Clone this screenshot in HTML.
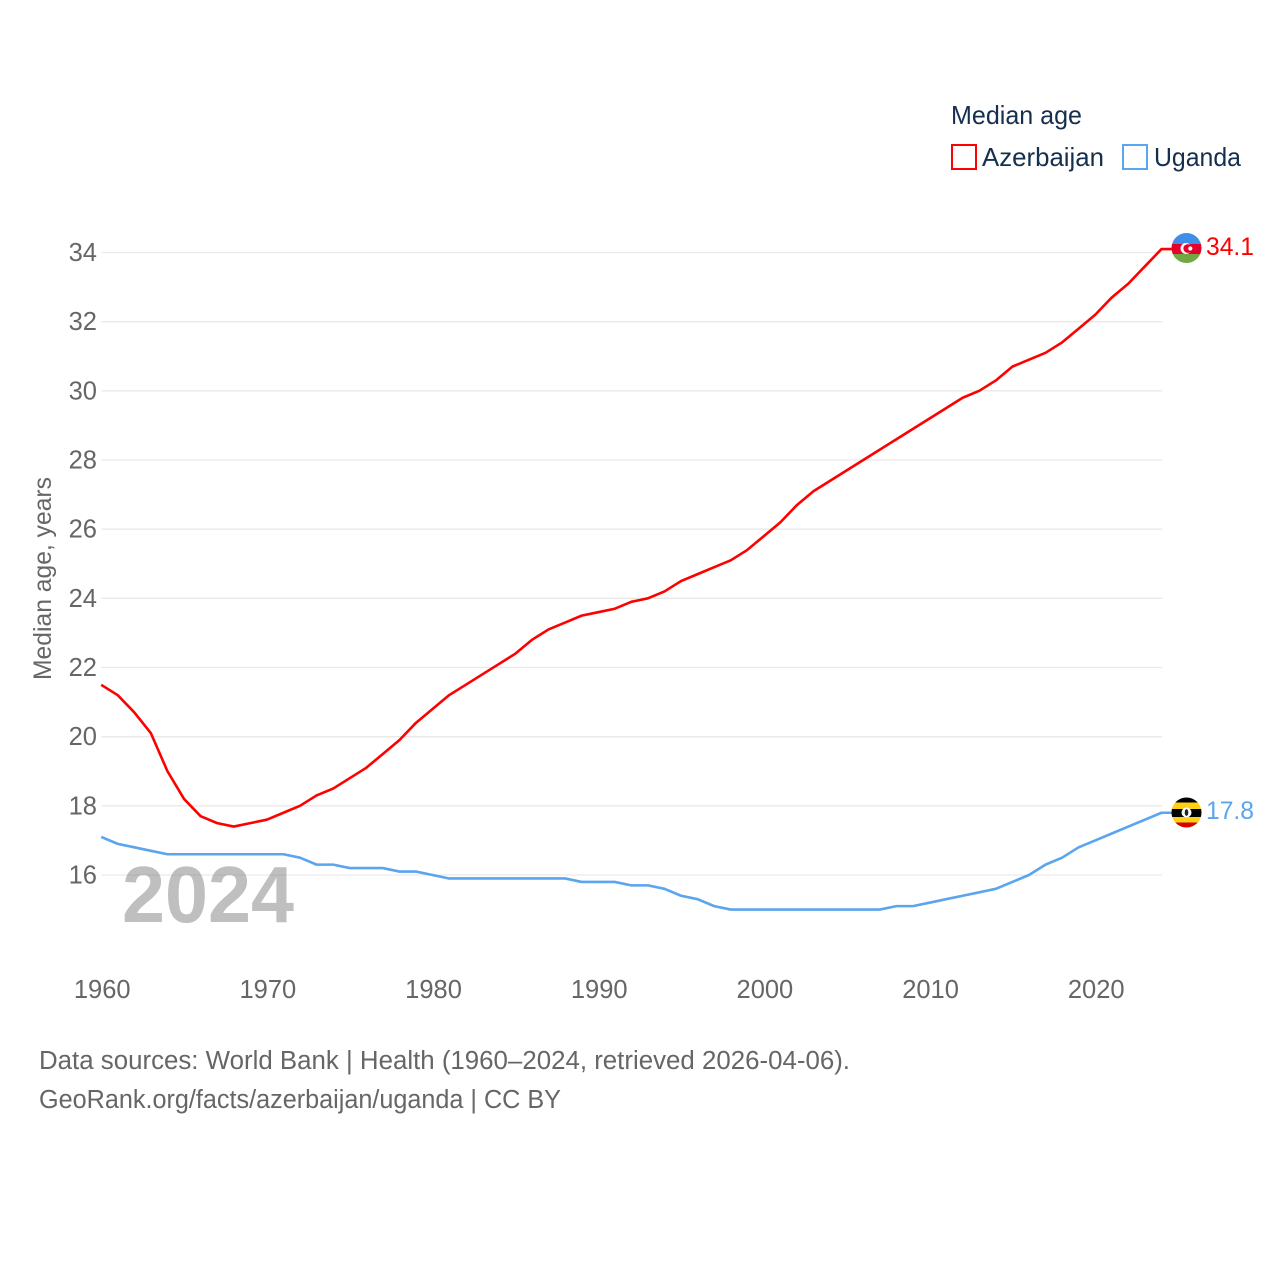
<!DOCTYPE html>
<html lang="en">
<head>
<meta charset="utf-8">
<title>Median age: Azerbaijan and Uganda</title>
<style>
html,body{margin:0;padding:0;background:#fff;width:1280px;height:1280px;overflow:hidden}
svg{display:block}
text{font-family:"Liberation Sans",sans-serif}
</style>
</head>
<body>
<svg id="chart" xmlns="http://www.w3.org/2000/svg" width="1280" height="1280" viewBox="0 0 1280 1280">
  <defs>
    <clipPath id="clip-az"><circle cx="1186.5" cy="248" r="15"/></clipPath>
    <clipPath id="clip-ug"><circle cx="1186.5" cy="812.5" r="15"/></clipPath>
  </defs>
  <g id="grid"></g>
  <g id="yticks"></g>
  <g id="xticks"></g>
  <text transform="translate(51,680) rotate(-90)" font-size="25" fill="#666" textLength="203" lengthAdjust="spacingAndGlyphs">Median age, years</text>
  <text x="122" y="922" font-size="80" font-weight="700" fill="#808080" fill-opacity="0.5" textLength="172" lengthAdjust="spacingAndGlyphs">2024</text>
  <g id="lines"></g>

  <g clip-path="url(#clip-az)">
    <rect x="1171" y="233" width="31" height="11" fill="#3f8ee8"/>
    <rect x="1171" y="244" width="31" height="10" fill="#e4002b"/>
    <rect x="1171" y="254" width="31" height="10" fill="#71a744"/>
    <circle cx="1186" cy="248.5" r="5.5" fill="#fff"/>
    <circle cx="1187.8" cy="248.5" r="4.4" fill="#e4002b"/>
    <circle cx="1190.3" cy="248.5" r="2.1" fill="#fff"/>
  </g>
  <text x="1206" y="255" font-size="25" fill="#ff0000" textLength="48" lengthAdjust="spacingAndGlyphs">34.1</text>

  <g clip-path="url(#clip-ug)">
    <rect x="1171" y="797" width="31" height="5.5" fill="#000"/>
    <rect x="1171" y="802.5" width="31" height="6.5" fill="#fcd116"/>
    <rect x="1171" y="809" width="31" height="8" fill="#000"/>
    <rect x="1171" y="817" width="31" height="5.5" fill="#fcd116"/>
    <rect x="1171" y="822.5" width="31" height="6" fill="#d90000"/>
    <circle cx="1186.5" cy="812.5" r="5" fill="#fff"/>
    <ellipse cx="1186.5" cy="812.5" rx="1.8" ry="3.4" fill="#222"/>
  </g>
  <text x="1206" y="819" font-size="25" fill="#5ba4ee" textLength="48" lengthAdjust="spacingAndGlyphs">17.8</text>

  <g>
    <text x="951" y="124" font-size="26" fill="#152f4e" textLength="131" lengthAdjust="spacingAndGlyphs">Median age</text>
    <rect x="952" y="145" width="24" height="24" fill="#fff" stroke="#ff0000" stroke-width="2"/>
    <text x="982" y="166" font-size="26" fill="#152f4e" textLength="122" lengthAdjust="spacingAndGlyphs">Azerbaijan</text>
    <rect x="1123" y="145" width="24" height="24" fill="#fff" stroke="#5ba4ee" stroke-width="2"/>
    <text x="1154" y="166" font-size="26" fill="#152f4e" textLength="87" lengthAdjust="spacingAndGlyphs">Uganda</text>
  </g>

  <text x="39" y="1069" font-size="25.5" fill="#666" textLength="811" lengthAdjust="spacingAndGlyphs">Data sources: World Bank | Health (1960–2024, retrieved 2026-04-06).</text>
  <a><text x="39" y="1108" font-size="25.5" fill="#666" textLength="522" lengthAdjust="spacingAndGlyphs">GeoRank.org/facts/azerbaijan/uganda | CC BY</text></a>
</svg>
<script>
var yearStart = 1960;
var azerbaijan = [21.5,21.2,20.7,20.1,19.0,18.2,17.7,17.5,17.4,17.5,17.6,17.8,18.0,18.3,18.5,18.8,19.1,19.5,19.9,20.4,20.8,21.2,21.5,21.8,22.1,22.4,22.8,23.1,23.3,23.5,23.6,23.7,23.9,24.0,24.2,24.5,24.7,24.9,25.1,25.4,25.8,26.2,26.7,27.1,27.4,27.7,28.0,28.3,28.6,28.9,29.2,29.5,29.8,30.0,30.3,30.7,30.9,31.1,31.4,31.8,32.2,32.7,33.1,33.6,34.1];
var uganda = [17.1,16.9,16.8,16.7,16.6,16.6,16.6,16.6,16.6,16.6,16.6,16.6,16.5,16.3,16.3,16.2,16.2,16.2,16.1,16.1,16.0,15.9,15.9,15.9,15.9,15.9,15.9,15.9,15.9,15.8,15.8,15.8,15.7,15.7,15.6,15.4,15.3,15.1,15.0,15.0,15.0,15.0,15.0,15.0,15.0,15.0,15.0,15.0,15.1,15.1,15.2,15.3,15.4,15.5,15.6,15.8,16.0,16.3,16.5,16.8,17.0,17.2,17.4,17.6,17.8];
var yTickValues = [16,18,20,22,24,26,28,30,32,34];
var xTickValues = [1960,1970,1980,1990,2000,2010,2020];

var NS = 'http://www.w3.org/2000/svg';
function xScale(year) { return 101.2 + (year - 1960) * (1161.5 - 101.2) / 64; }
function yScale(v) { return 875 - (v - 16) * (875 - 252.5) / 18; }
function make(tag, attrs, parent) {
  var el = document.createElementNS(NS, tag);
  for (var k in attrs) el.setAttribute(k, attrs[k]);
  parent.appendChild(el);
  return el;
}
var gridG = document.getElementById('grid');
var yG = document.getElementById('yticks');
var xG = document.getElementById('xticks');
var linesG = document.getElementById('lines');

yTickValues.forEach(function (v) {
  var line = make('line', {x1: 101.5, x2: 1162, y1: yScale(v), y2: yScale(v), stroke: '#e9e9e9', 'stroke-width': 1.3}, gridG);
  
  
  var t = make('text', {x: 97, y: yScale(v) + 8.5, 'font-size': 25.5, fill: '#666', 'text-anchor': 'end'}, yG);
  
  
  t.textContent = v;
});
xTickValues.forEach(function (yr) {
  var t = make('text', {x: xScale(yr) + 1, y: 998, 'font-size': 25.5, fill: '#666', 'text-anchor': 'middle'}, xG);
  
  
  t.textContent = yr;
});
function drawSeries(values, color, name) {
  var pts = values.map(function (v, i) { return xScale(yearStart + i).toFixed(2) + ',' + yScale(v).toFixed(2); });
  var lastY = yScale(values[values.length - 1]).toFixed(2);
  pts.push('1172,' + lastY);
  var p = make('polyline', {points: pts.join(' '), fill: 'none', stroke: color, 'stroke-width': 2.6, 'stroke-linejoin': 'round'}, linesG);
  
  
}
drawSeries(azerbaijan, '#ff0000', 'azerbaijan-line');
drawSeries(uganda, '#5ba4ee', 'uganda-line');
</script>
</body>
</html>
